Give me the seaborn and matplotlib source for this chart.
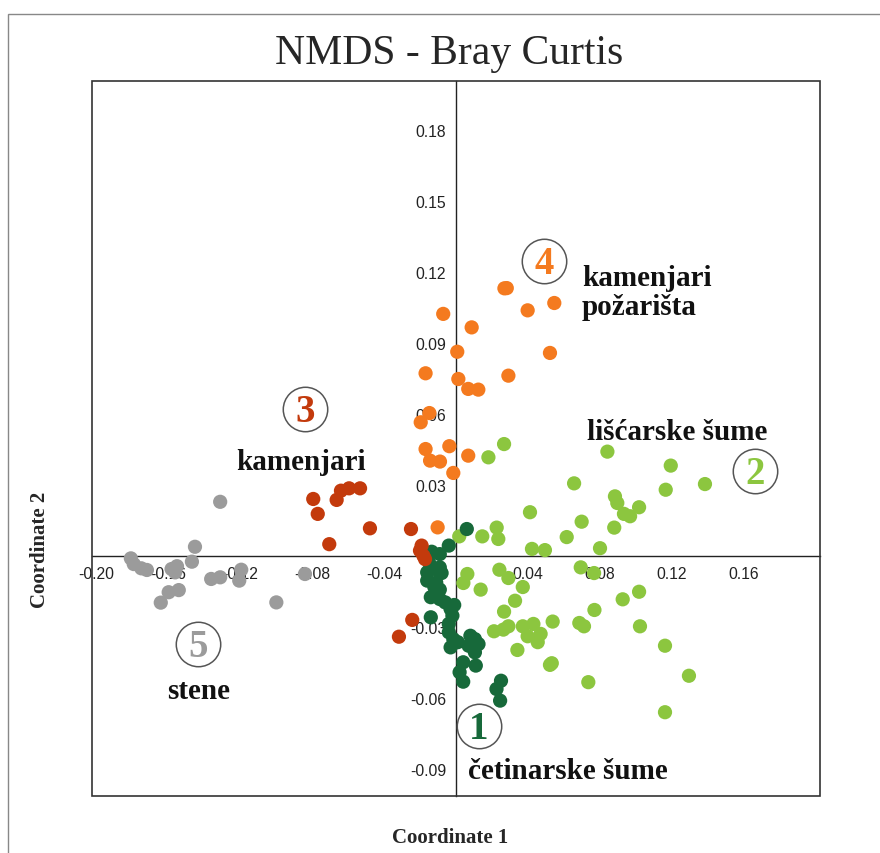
import numpy as np
import pandas as pd
import matplotlib
matplotlib.use("Agg")
import matplotlib.pyplot as plt
from matplotlib.patches import Rectangle
import seaborn as sns

# NMDS coordinates, one pair of lists per habitat group
cet_x = [0.006, -0.004, -0.0135, -0.009, -0.015, -0.009, -0.016, -0.008, -0.016, -0.011,
         -0.009, -0.014, -0.009, -0.006, -0.001, -0.003, -0.002, -0.014, -0.004, -0.004,
         -0.0015, -0.003, 0.001, 0.008, 0.0105, 0.0125, 0.007, 0.0105, 0.004, 0.011,
         0.002, 0.004, 0.025, 0.0225, 0.0245, -0.012, -0.010]
cet_y = [0.0116, 0.0046, 0.002, 0.001, -0.0025, -0.0046, -0.0067, -0.007, -0.0102, -0.011,
         -0.014, -0.0172, -0.018, -0.0194, -0.0205, -0.0222, -0.025, -0.0257, -0.0285, -0.032,
         -0.0349, -0.0384, -0.0362, -0.0335, -0.0349, -0.037, -0.0377, -0.0405, -0.0447, -0.0461,
         -0.0489, -0.0529, -0.0525, -0.056, -0.0609, -0.0130, -0.0060]

lis_x = [0.0267, 0.018, 0.0841, 0.1193, 0.1165, 0.1383, 0.0656, 0.0883, 0.0896, 0.1017,
         0.0933, 0.0967, 0.0879, 0.0698, 0.0411, 0.0226, 0.0235, 0.0146, 0.0018, 0.0615,
         0.0422, 0.0494, 0.08, 0.0693, 0.0767, 0.0241, 0.0291, 0.0063, 0.0041, 0.0137,
         0.0371, 0.0328, 0.0267, 0.0211, 0.0263, 0.0291, 0.0371, 0.043, 0.0537, 0.0398,
         0.047, 0.0454, 0.0341, 0.0532, 0.0522, 0.0685, 0.0711, 0.0769, 0.0926, 0.1017,
         0.1022, 0.1161, 0.1294, 0.0735, 0.1161]
lis_y = [0.0475, 0.0419, 0.0443, 0.0384, 0.0282, 0.0306, 0.0309, 0.0254, 0.0226, 0.0208,
         0.018, 0.017, 0.0122, 0.0147, 0.0187, 0.0122, 0.0074, 0.0085, 0.0085, 0.0082,
         0.0032, 0.0027, 0.0035, -0.0046, -0.007, -0.0056, -0.0091, -0.0074, -0.0112, -0.014,
         -0.0129, -0.0187, -0.0233, -0.0316, -0.0309, -0.0295, -0.0295, -0.0285, -0.0275, -0.0337,
         -0.0327, -0.0362, -0.0395, -0.0451, -0.0458, -0.0281, -0.0295, -0.0226, -0.0181, -0.0149,
         -0.0295, -0.0377, -0.0504, -0.0531, -0.0658]

kam_x = [-0.0793, -0.0768, -0.0663, -0.0639, -0.0594, -0.0533, -0.0704, -0.0478, -0.025,
         -0.0191, -0.02, -0.0181, -0.0172, -0.0243, -0.0317]
kam_y = [0.0243, 0.018, 0.0239, 0.0278, 0.0288, 0.0288, 0.0052, 0.0119, 0.0116,
         0.0046, 0.0025, 0.0003, -0.0011, -0.0268, -0.0339]

poz_x = [0.0269, 0.0282, 0.0546, 0.0398, -0.0071, 0.0087, 0.0522, 0.0007, -0.0169, 0.0013,
         0.0291, 0.0068, 0.0124, -0.0148, -0.0196, -0.0169, -0.0037, -0.0144, -0.0089, 0.0068,
         -0.0015, -0.0102]
poz_y = [0.1133, 0.1134, 0.1071, 0.104, 0.1025, 0.0968, 0.086, 0.0865, 0.0774, 0.075,
         0.0764, 0.0708, 0.0705, 0.0606, 0.0567, 0.0454, 0.0466, 0.0405, 0.0401, 0.0426,
         0.0353, 0.0123]

ste_x = [-0.131, -0.145, -0.1467, -0.1806, -0.179, -0.1748, -0.1717, -0.158, -0.155, -0.156,
         -0.154, -0.1596, -0.164, -0.136, -0.131, -0.1193, -0.1204, -0.0998, -0.0839]
ste_y = [0.0231, 0.0041, -0.0022, -0.0008, -0.0032, -0.005, -0.0057, -0.0053, -0.0041, -0.0067,
         -0.0142, -0.0151, -0.0195, -0.0095, -0.0088, -0.0056, -0.0102, -0.0194, -0.0074]

groups = ["stene", "lišćarske šume", "četinarske šume", "kamenjari požarišta", "kamenjari"]
group_colors = ["#9b9b9b", "#8cc63f", "#17693a", "#f47a1f", "#c33a0c"]

x_ticks = [-0.20, -0.16, -0.12, -0.08, -0.04, 0.04, 0.08, 0.12, 0.16]
y_ticks = [-0.09, -0.06, -0.03, 0.03, 0.06, 0.09, 0.12, 0.15, 0.18]

df = pd.concat([
    pd.DataFrame({"x": ste_x, "y": ste_y, "grupa": groups[0]}),
    pd.DataFrame({"x": lis_x, "y": lis_y, "grupa": groups[1]}),
    pd.DataFrame({"x": cet_x, "y": cet_y, "grupa": groups[2]}),
    pd.DataFrame({"x": poz_x, "y": poz_y, "grupa": groups[3]}),
    pd.DataFrame({"x": kam_x, "y": kam_y, "grupa": groups[4]}),
], ignore_index=True)

sns.set_style("white")
plt.rcParams["font.family"] = ["Liberation Serif", "DejaVu Serif"]

fig = plt.figure(figsize=(8.8, 8.54), dpi=100)
ax = fig.add_axes([92 / 880, 1 - 797 / 854, 728 / 880, 715 / 854])

sns.scatterplot(data=df, x="x", y="y", hue="grupa", palette=dict(zip(groups, group_colors)),
                s=105, linewidth=0, alpha=1, legend=False, ax=ax, zorder=3)

ax.set_xlim(-0.2022, 0.2022)
ax.set_ylim(-0.1012, 0.2009)

# axes crossing at the origin, plus a full frame
for side in ["left", "bottom"]:
    ax.spines[side].set_position(("data", 0))
    ax.spines[side].set_color("#222222")
    ax.spines[side].set_linewidth(1.0)
for side in ["top", "right"]:
    ax.spines[side].set_visible(False)
ax.add_patch(Rectangle((0, 0), 1, 1, transform=ax.transAxes, fill=False,
                       ec="#333333", lw=1.2, zorder=5, clip_on=False))

ax.set_xticks(x_ticks)
ax.set_xticklabels([f"{v:.2f}" for v in x_ticks])
ax.set_yticks(y_ticks)
ax.set_yticklabels([f"{v:.2f}" for v in y_ticks])
ax.tick_params(direction="out", length=5, width=1, color="#222222", pad=2,
               labelsize=11.3, labelcolor="#222222")
for lab in ax.get_xticklabels() + ax.get_yticklabels():
    lab.set_fontfamily("Liberation Sans")
ax.set_xlabel("")
ax.set_ylabel("")

# group labels
lab_kw = dict(fontsize=21, fontweight="bold", color="#111111", zorder=6)
ax.text(-0.0861, 0.0403, "kamenjari", ha="center", va="center", **lab_kw)
ax.text(0.070, 0.1117, "kamenjari\npožarišta", ha="left", va="center", linespacing=1.1, **lab_kw)
ax.text(0.1228, 0.0526, "lišćarske šume", ha="center", va="center", **lab_kw)
ax.text(-0.1428, -0.0568, "stene", ha="center", va="center", **lab_kw)
ax.text(0.0622, -0.0906, "četinarske šume", ha="center", va="center", **lab_kw)

# circled group numbers
circles = [("1", 0.0128, -0.0716, group_colors[2]),
           ("2", 0.1661, 0.0361, group_colors[1]),
           ("3", -0.0839, 0.0623, group_colors[4]),
           ("4", 0.0489, 0.1248, group_colors[3]),
           ("5", -0.1433, -0.0370, group_colors[0])]
for num, cx, cy, col in circles:
    ax.plot(cx, cy, marker="o", markersize=32, mfc="white", mec="#555555", mew=1.1, zorder=6)
    ax.text(cx, cy - 0.0012, num, ha="center", va="center", fontsize=28, fontweight="bold",
            color=col, zorder=7)

fig.text(0.51, 1 - 64 / 854, "NMDS - Bray Curtis", ha="center", va="baseline", fontsize=30)
fig.text(450 / 880, 1 - 838 / 854, "Coordinate 1", ha="center", va="center",
         fontsize=15, fontweight="bold")
fig.text(40 / 880, 1 - 550 / 854, "Coordinate 2", ha="center", va="center",
         fontsize=15, fontweight="bold", rotation=90)

# outer frame of the original figure
fig.patches.append(Rectangle((8 / 880, -0.1), 1.0, (854 - 15) / 854 + 0.1,
                             transform=fig.transFigure, fill=False, ec="#888888", lw=1.0))

fig.savefig("out.png", dpi=100)
